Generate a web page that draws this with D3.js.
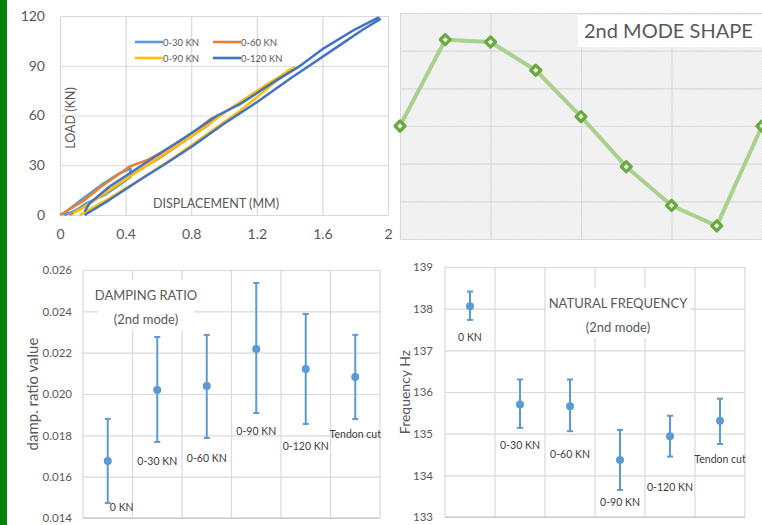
<!DOCTYPE html>
<html>
<head>
<meta charset="utf-8">
<script src="https://cdn.jsdelivr.net/npm/d3@7"></script>
<style>
  body { margin: 0; background: #fff; }
  svg { display: block; font-family: Lato, 'Liberation Sans', sans-serif; }
</style>
</head>
<body>
<svg id="chart" width="762" height="525"></svg>
<script>
// ==========================================
// DATA
// ==========================================
// load vs displacement loops, [displacement mm, load kN]
const loadNames = ['0-30 KN', '0-60 KN', '0-90 KN', '0-120 KN'];
const load030 = [[0.03,0],[0.10,3],[0.16,7],[0.27,12],[0.36,18],[0.43,23],[0.43,28],
  [0.36,25],[0.25,18],[0.14,10],[0.05,3],[0.02,0]];
const load060 = [[0.06,0],[0.15,5],[0.30,15],[0.45,25],[0.60,34],[0.75,44],[0.90,54],[0.97,60],
  [0.92,58],[0.83,51],[0.72,44],[0.62,38],[0.53,33],[0.47,31],[0.42,29],[0.35,24],[0.25,17],[0.15,9],[0.05,3],[0,0]];
const load090 = [[0.12,0],[0.30,10],[0.50,22],[0.70,35],[0.90,49],[1.10,63],[1.25,75],[1.39,87],[1.43,89],
  [1.25,78],[1.05,65],[0.88,53],[0.70,41],[0.50,28],[0.30,15],[0.15,5],[0.08,1]];
const load120 = [[0.15,0],[0.30,9],[0.50,22],[0.63,30],[0.80,41],[1.00,55],[1.20,68],[1.40,82],[1.52,90],[1.70,102],[1.85,112],[1.95,118],
  [1.94,119],[1.80,112],[1.60,100],[1.45,89],[1.30,80],[1.10,67],[0.96,60],[0.75,46],[0.50,30],[0.30,17],[0.18,7],[0.15,2]];
const loadXTicks = [0, 0.4, 0.8, 1.2, 1.6, 2];
const loadYTicks = [0, 30, 60, 90, 120];

// 2nd mode shape
const modeNodes = [0, 1, 2, 3, 4, 5, 6, 7, 8];
const modeValues = [0, 2.29, 2.23, 1.48, 0.25, -1.08, -2.11, -2.65, 0];

// damping ratio and natural frequency (mean with error range)
const cases = ['0 KN', '0-30 KN', '0-60 KN', '0-90 KN', '0-120 KN', 'Tendon cut'];
const dampMean = [0.01676, 0.02019, 0.02039, 0.02218, 0.02121, 0.02082];
const dampLow  = [0.01473, 0.01768, 0.01787, 0.01908, 0.01855, 0.01879];
const dampHigh = [0.01880, 0.02276, 0.02286, 0.02537, 0.02387, 0.02286];
const dampLabelAt = [0.01453, 0.01676, 0.01690, 0.01821, 0.01748, 0.01806];
const dampTicks = [0.014, 0.016, 0.018, 0.020, 0.022, 0.024, 0.026];

const freqMean = [138.06, 135.70, 135.66, 134.37, 134.94, 135.31];
const freqLow  = [137.73, 135.14, 135.06, 133.65, 134.45, 134.75];
const freqHigh = [138.41, 136.30, 136.30, 135.09, 135.43, 135.84];
const freqLabelAt = [137.32, 134.73, 134.51, 133.36, 133.72, 134.39];
const freqTicks = [133, 134, 135, 136, 137, 138, 139];

// ==========================================
// SETUP
// ==========================================
const svg = d3.select('#chart');
const GRID = '#d9d9d9';
const TXT = '#595959';
const BLUE = '#5b9bd5';

svg.append('rect').attr('x', 0).attr('y', 0).attr('width', 7).attr('height', 525).attr('fill', '#0a820a');

// len = how far grid lines reach into the plot (always positive)
function grid(g, scale, ticks, orient, len) {
  const ax = orient === 'x' ? d3.axisBottom(scale) : d3.axisLeft(scale);
  g.call(ax.tickValues(ticks).tickSize(-len).tickFormat(''));
  g.select('.domain').remove();
  g.selectAll('line').attr('stroke', GRID).attr('stroke-width', 1.2);
}

function tickLabels(g, scale, ticks, orient, pad, fmt, size) {
  const ax = orient === 'x' ? d3.axisBottom(scale) : d3.axisLeft(scale);
  g.call(ax.tickValues(ticks).tickSize(0).tickPadding(pad).tickFormat(fmt));
  g.select('.domain').remove();
  g.selectAll('text').attr('fill', TXT).style('font-size', size + 'px').style('font-family', 'Lato, sans-serif');
}

// ==========================================
// PANEL A - LOAD vs DISPLACEMENT
// ==========================================
(function () {
  const x = d3.scaleLinear().domain([0, 2]).range([60, 388]);
  const y = d3.scaleLinear().domain([0, 120]).range([215, 16]);
  const g = svg.append('g');

  grid(g.append('g').attr('transform', 'translate(0,215)'), x, loadXTicks, 'x', 199);
  grid(g.append('g').attr('transform', 'translate(60,0)'), y, loadYTicks, 'y', 328);
  tickLabels(g.append('g').attr('transform', 'translate(0,215)'), x, loadXTicks, 'x', 14, d3.format('~g'), 14);
  tickLabels(g.append('g').attr('transform', 'translate(45,0)'), y, loadYTicks, 'y', 0, d3.format('d'), 14);

  const colors = ['#5b9bd5', '#ed7d31', '#ffc000', '#4472c4'];
  const series = [load030, load060, load090, load120];
  const line = d3.line().x(d => x(d[0])).y(d => y(d[1]));
  series.forEach((s, i) => {
    g.append('path').attr('d', line(s)).attr('fill', 'none')
      .attr('stroke', colors[i]).attr('stroke-width', 2.5).attr('stroke-linejoin', 'round');
  });

  // legend
  const lg = g.append('g');
  loadNames.forEach((n, i) => {
    const lx = 135 + (i % 2) * 78;
    const ly = 42 + Math.floor(i / 2) * 16;
    lg.append('line').attr('x1', lx).attr('x2', lx + 28).attr('y1', ly).attr('y2', ly)
      .attr('stroke', colors[i]).attr('stroke-width', 2.6);
    lg.append('text').attr('x', lx + 28).attr('y', ly + 3.5).text(n)
      .attr('fill', TXT).style('font-size', '9.5px');
  });

  g.append('text').attr('transform', 'translate(75,118) rotate(-90)').attr('text-anchor', 'middle')
    .text('LOAD (KN)').attr('fill', TXT).style('font-size', '12.5px');
  g.append('text').attr('x', 216).attr('y', 208).attr('text-anchor', 'middle')
    .text('DISPLACEMENT (MM)').attr('fill', TXT).style('font-size', '12.5px');
})();

// ==========================================
// PANEL B - 2nd MODE SHAPE
// ==========================================
(function () {
  const x = d3.scaleLinear().domain([0, 8]).range([400, 762]);
  const y = d3.scaleLinear().domain([-3, 3]).range([239, 13]);
  const g = svg.append('g');

  const pat = svg.append('defs').append('pattern').attr('id', 'hatch')
    .attr('patternUnits', 'userSpaceOnUse').attr('width', 3).attr('height', 3);
  pat.append('rect').attr('width', 3).attr('height', 3).attr('fill', '#f4f4f4');
  pat.append('path').attr('d', 'M0,3 L3,0').attr('stroke', '#e6e6e6').attr('stroke-width', 0.7);

  g.append('rect').attr('x', 400).attr('y', 13).attr('width', 362).attr('height', 226).attr('fill', 'url(#hatch)');
  grid(g.append('g').attr('transform', 'translate(0,239)'), x, [0, 2, 4, 6, 8], 'x', 226);
  grid(g.append('g').attr('transform', 'translate(400,0)'), y, d3.range(-3, 4), 'y', 362);

  const line = d3.line().x((d, i) => x(modeNodes[i])).y(d => y(d));
  g.append('path').attr('d', line(modeValues)).attr('fill', 'none')
    .attr('stroke', '#a9d18e').attr('stroke-width', 4).attr('stroke-linejoin', 'round');
  g.selectAll('.mk').data(modeValues).enter().append('path')
    .attr('d', d3.symbol(d3.symbolSquare, 50))
    .attr('transform', (d, i) => `translate(${x(modeNodes[i])},${y(d)}) rotate(45)`)
    .attr('fill', '#e6f2dc').attr('stroke', '#6aa842').attr('stroke-width', 3.2)
    .attr('stroke-linejoin', 'round');

  g.append('rect').attr('x', 578).attr('y', 15).attr('width', 184).attr('height', 32).attr('fill', '#fff');
  g.append('text').attr('x', 584).attr('y', 38).text('2nd MODE SHAPE')
    .attr('fill', TXT).style('font-size', '20px');
})();

// ==========================================
// ERROR BAR PANELS
// ==========================================
function errorPanel(opt) {
  const x = d3.scaleBand().domain(cases).range(opt.xr);
  const y = d3.scaleLinear().domain(opt.dom).range(opt.yr);
  const g = svg.append('g');
  const w = opt.xr[1] - opt.xr[0];

  // vertical grid on band edges
  g.selectAll('.vg').data(d3.range(cases.length + 1)).enter().append('line')
    .attr('x1', i => opt.xr[0] + i * x.step()).attr('x2', i => opt.xr[0] + i * x.step())
    .attr('y1', opt.yr[1]).attr('y2', opt.yr[0]).attr('stroke', GRID).attr('stroke-width', 1.2);
  grid(g.append('g').attr('transform', `translate(${opt.xr[0]},0)`), y, opt.ticks, 'y', w);
  g.append('line').attr('x1', opt.xr[0]).attr('x2', opt.xr[1]).attr('y1', opt.yr[0]).attr('y2', opt.yr[0])
    .attr('stroke', '#bfbfbf').attr('stroke-width', 1.2);
  tickLabels(g.append('g').attr('transform', `translate(${opt.tickX},0)`), y, opt.ticks, 'y', 0, opt.fmt, 11.5);

  g.append('text').attr('transform', `translate(${opt.labX},${(opt.yr[0] + opt.yr[1]) / 2}) rotate(-90)`)
    .attr('text-anchor', 'middle').text(opt.yLabel).attr('fill', TXT).style('font-size', opt.labSize + 'px');

  // title box
  g.append('rect').attr('x', opt.box[0]).attr('y', opt.box[1]).attr('width', opt.box[2]).attr('height', opt.box[3]).attr('fill', '#fff');
  opt.title.forEach((t, i) => {
    g.append('text').attr('x', opt.box[0] + opt.box[2] / 2).attr('y', opt.box[1] + 20 + i * 24)
      .attr('text-anchor', 'middle').text(t).attr('fill', TXT).style('font-size', '13px');
  });

  const cx = d => x(d) + x.bandwidth() / 2;
  cases.forEach((c, i) => {
    const xx = cx(c);
    g.append('line').attr('x1', xx).attr('x2', xx).attr('y1', y(opt.high[i])).attr('y2', y(opt.low[i]))
      .attr('stroke', BLUE).attr('stroke-width', 2);
    [opt.high[i], opt.low[i]].forEach(v => {
      g.append('line').attr('x1', xx - 3).attr('x2', xx + 3).attr('y1', y(v)).attr('y2', y(v))
        .attr('stroke', BLUE).attr('stroke-width', 2);
    });
    g.append('circle').attr('cx', xx).attr('cy', y(opt.mean[i])).attr('r', 4).attr('fill', BLUE);
    g.append('text').attr('x', xx + (opt.firstShift && i === 0 ? 14 : 0)).attr('y', y(opt.labelAt[i]) + 4)
      .attr('text-anchor', 'middle').text(c).attr('fill', '#404040').style('font-size', '10.5px');
  });
}

errorPanel({
  xr: [83, 380], yr: [518, 270], dom: [0.014, 0.026], ticks: dampTicks, fmt: d3.format('.3f'),
  tickX: 72, labX: 38, labSize: 15, yLabel: 'damp. ratio value',
  title: ['DAMPING RATIO', '(2nd mode)'], box: [98, 280, 96, 50],
  mean: dampMean, low: dampLow, high: dampHigh, labelAt: dampLabelAt, firstShift: true
});

errorPanel({
  xr: [445, 745], yr: [517, 267], dom: [133, 139], ticks: freqTicks, fmt: d3.format('d'),
  tickX: 433, labX: 410, labSize: 14, yLabel: 'Frequency Hz',
  title: ['NATURAL FREQUENCY', '(2nd mode)'], box: [546, 288, 144, 50],
  mean: freqMean, low: freqLow, high: freqHigh, labelAt: freqLabelAt, firstShift: false
});
</script>
</body>
</html>
